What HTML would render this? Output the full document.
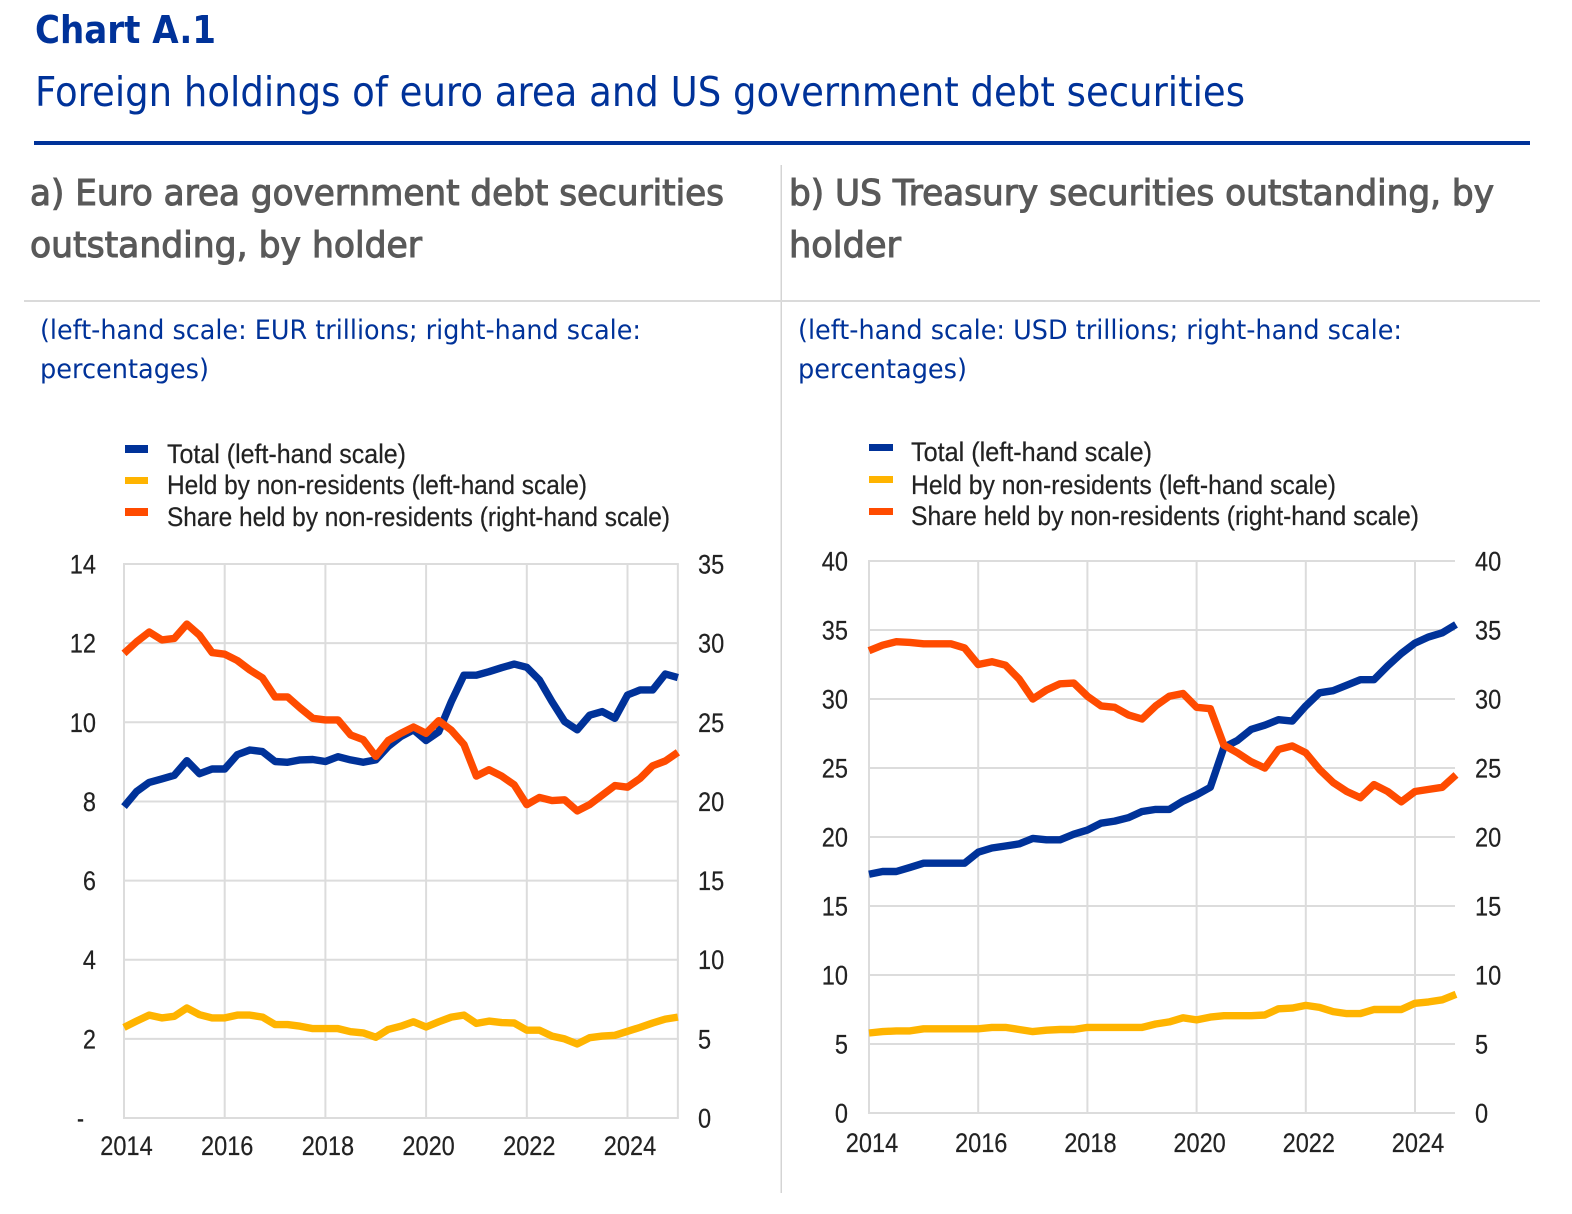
<!DOCTYPE html>
<html lang="en">
<head>
<meta charset="utf-8">
<title>Chart A.1</title>
<style>
html,body{margin:0;padding:0;background:#fff;}
#root{position:relative;width:1572px;height:1214px;overflow:hidden;background:#fff;}
svg{position:absolute;left:0;top:0;display:block;}
.head{font-family:"DejaVu Sans","Liberation Sans",sans-serif;}
.semi{stroke:#595959;stroke-width:1.1px;}
.tk{font-family:"Liberation Sans",Arial,sans-serif;fill:#222;font-size:27px;stroke:#222;stroke-width:.2px;}
.lg{font-family:"Liberation Sans",Arial,sans-serif;fill:#222;font-size:26.5px;stroke:#222;stroke-width:.2px;}
</style>
</head>
<body>
<div id="root">
<svg id="fig" width="1572" height="1214" viewBox="0 0 1572 1214" xmlns="http://www.w3.org/2000/svg">
  <text class="head" x="35" y="43" font-size="38" font-weight="700" fill="#003299" textLength="181" lengthAdjust="spacingAndGlyphs">Chart A.1</text>
  <text class="head" x="35" y="106" font-size="41" fill="#003299" textLength="1210" lengthAdjust="spacingAndGlyphs">Foreign holdings of euro area and US government debt securities</text>
  <rect x="34" y="141" width="1496" height="4" fill="#003299"/>
  <rect x="780.5" y="165" width="1.5" height="1028" fill="#d4d4d4"/>
  <rect x="24" y="300" width="1516" height="2" fill="#dadada"/>

  <text class="head semi" x="30" y="205" font-size="36" fill="#595959" textLength="694" lengthAdjust="spacingAndGlyphs">a) Euro area government debt securities</text>
  <text class="head semi" x="30" y="257" font-size="36" fill="#595959" textLength="392" lengthAdjust="spacingAndGlyphs">outstanding, by holder</text>
  <text class="head semi" x="789" y="205" font-size="36" fill="#595959" textLength="705" lengthAdjust="spacingAndGlyphs">b) US Treasury securities outstanding, by</text>
  <text class="head semi" x="789" y="257" font-size="36" fill="#595959" textLength="112" lengthAdjust="spacingAndGlyphs">holder</text>

  <text class="head" x="40" y="339" font-size="27" fill="#003299" textLength="601" lengthAdjust="spacingAndGlyphs">(left-hand scale: EUR trillions; right-hand scale:</text>
  <text class="head" x="40" y="378" font-size="27" fill="#003299" textLength="169" lengthAdjust="spacingAndGlyphs">percentages)</text>
  <text class="head" x="798" y="339" font-size="27" fill="#003299" textLength="604" lengthAdjust="spacingAndGlyphs">(left-hand scale: USD trillions; right-hand scale:</text>
  <text class="head" x="798" y="378" font-size="27" fill="#003299" textLength="169" lengthAdjust="spacingAndGlyphs">percentages)</text>

  <g>
    <rect x="125" y="445" width="23" height="8" fill="#003299"/>
    <text class="lg" x="167" y="463" textLength="239" lengthAdjust="spacingAndGlyphs">Total (left-hand scale)</text>
    <rect x="125" y="477" width="23" height="7" fill="#ffb400"/>
    <text class="lg" x="167" y="494" textLength="420" lengthAdjust="spacingAndGlyphs">Held by non-residents (left-hand scale)</text>
    <rect x="125" y="508" width="23" height="8" fill="#ff4b00"/>
    <text class="lg" x="167" y="526" textLength="503" lengthAdjust="spacingAndGlyphs">Share held by non-residents (right-hand scale)</text>
  </g>
  <g>
    <rect x="869" y="444" width="24" height="7" fill="#003299"/>
    <text class="lg" x="911" y="461" textLength="241" lengthAdjust="spacingAndGlyphs">Total (left-hand scale)</text>
    <rect x="869" y="476" width="24" height="7" fill="#ffb400"/>
    <text class="lg" x="911" y="494" textLength="425" lengthAdjust="spacingAndGlyphs">Held by non-residents (left-hand scale)</text>
    <rect x="869" y="508" width="24" height="7" fill="#ff4b00"/>
    <text class="lg" x="911" y="525" textLength="508" lengthAdjust="spacingAndGlyphs">Share held by non-residents (right-hand scale)</text>
  </g>
  <g id="chart-a"></g>
  <g id="chart-b"></g>
</svg>
</div>
<script>
// Panel a data (quarterly from 2014 Q1)
const aTotal = [7.87,8.25,8.48,8.57,8.66,9.03,8.70,8.82,8.82,9.18,9.30,9.26,9.01,8.99,9.05,9.06,9.01,9.13,9.05,8.99,9.05,9.39,9.64,9.81,9.54,9.76,10.52,11.19,11.19,11.28,11.38,11.47,11.39,11.07,10.52,10.02,9.81,10.18,10.27,10.10,10.69,10.82,10.82,11.22,11.13];
const aHeld = [2.29,2.45,2.60,2.53,2.57,2.78,2.61,2.53,2.53,2.60,2.60,2.55,2.36,2.36,2.32,2.26,2.26,2.26,2.18,2.15,2.04,2.24,2.32,2.43,2.30,2.43,2.55,2.60,2.39,2.45,2.41,2.40,2.22,2.22,2.07,2.00,1.87,2.03,2.07,2.09,2.19,2.29,2.40,2.50,2.55];
const aShare = [29.35,30.08,30.7,30.2,30.3,31.2,30.5,29.4,29.3,28.9,28.3,27.8,26.6,26.6,25.9,25.25,25.15,25.15,24.2,23.9,22.85,23.85,24.3,24.7,24.3,25.1,24.5,23.6,21.6,22.0,21.6,21.05,19.8,20.25,20.05,20.1,19.4,19.8,20.4,21.0,20.9,21.45,22.25,22.55,23.1];
const aLeftTicks = [0,2,4,6,8,10,12,14];
const aLeftLabels = ['-','2','4','6','8','10','12','14'];
const aRightTicks = [0,5,10,15,20,25,30,35];
const aRightLabels = ['0','5','10','15','20','25','30','35'];
const aYearTicks = [2014,2016,2018,2020,2022,2024];
const aYearLabels = ['2014','2016','2018','2020','2022','2024'];

// Panel b data (quarterly from 2014 Q1)
const bTotal = [17.3,17.5,17.5,17.8,18.1,18.1,18.1,18.1,18.9,19.2,19.35,19.5,19.9,19.8,19.8,20.2,20.5,21.0,21.15,21.4,21.85,22.0,22.0,22.6,23.05,23.6,26.5,27.0,27.8,28.1,28.5,28.4,29.5,30.45,30.6,31.0,31.4,31.4,32.4,33.3,34.05,34.5,34.8,35.4];
const bHeld = [5.8,5.9,5.95,5.95,6.1,6.1,6.1,6.1,6.1,6.2,6.2,6.05,5.9,6.0,6.05,6.05,6.2,6.2,6.2,6.2,6.2,6.45,6.6,6.9,6.75,6.95,7.05,7.05,7.05,7.1,7.55,7.6,7.8,7.65,7.35,7.2,7.2,7.5,7.5,7.5,7.95,8.05,8.2,8.6];
const bShare = [33.5,33.9,34.15,34.1,34.0,34.0,34.0,33.7,32.5,32.7,32.45,31.45,30.0,30.65,31.1,31.15,30.2,29.5,29.4,28.85,28.55,29.5,30.2,30.4,29.4,29.3,26.65,26.1,25.45,25.0,26.35,26.6,26.1,24.9,23.95,23.3,22.85,23.8,23.3,22.55,23.3,23.45,23.6,24.5];
const bLeftTicks = [0,5,10,15,20,25,30,35,40];
const bLeftLabels = ['0','5','10','15','20','25','30','35','40'];
const bRightTicks = [0,5,10,15,20,25,30,35,40];
const bRightLabels = ['0','5','10','15','20','25','30','35','40'];
const bYearTicks = [2014,2016,2018,2020,2022,2024];
const bYearLabels = ['2014','2016','2018','2020','2022','2024'];

const NS = 'http://www.w3.org/2000/svg';
const START_YEAR = 2014;
const GRID = '#dcdcdc';
const BLUE = '#003299';
const YELLOW = '#ffb400';
const ORANGE = '#ff4b00';

function svgEl(tag, parent) {
  const el = document.createElementNS(NS, tag);
  parent.appendChild(el);
  return el;
}
function gridLine(parent, x1, y1, x2, y2, name) {
  const l = svgEl('line', parent);
  l.setAttribute('x1', x1);
  l.setAttribute('y1', y1);
  l.setAttribute('x2', x2);
  l.setAttribute('y2', y2);
  l.setAttribute('stroke', GRID);
  l.setAttribute('stroke-width', 2);
  
  
}
function label(parent, x, y, str, anchor, name) {
  const t = svgEl('text', parent);
  t.setAttribute('class', 'tk');
  t.setAttribute('x', x);
  t.setAttribute('y', y);
  t.setAttribute('text-anchor', anchor);
  t.setAttribute('textLength', str === '-' ? 7 : str.length * 13.1);
  t.setAttribute('lengthAdjust', 'spacingAndGlyphs');
  t.textContent = str;
  
  
}
function seriesLine(parent, values, xFn, yFn, color, name) {
  const p = svgEl('polyline', parent);
  const pts = [];
  for (let i = 0; i < values.length; i++) {
    pts.push(xFn(START_YEAR + i / 4).toFixed(1) + ',' + yFn(values[i]).toFixed(1));
  }
  p.setAttribute('points', pts.join(' '));
  p.setAttribute('fill', 'none');
  p.setAttribute('stroke', color);
  p.setAttribute('stroke-width', 7.4);
  p.setAttribute('stroke-linejoin', 'round');
  p.setAttribute('stroke-linecap', 'butt');
  
  
}

// Panel a axes
const aX = function (t) { return 124 + (t - 2014) * 50.35; };
const aYL = function (v) { return 1118 - v * 39.57; };
const aYR = function (v) { return 1118 - v * 15.83; };
// Panel b axes
const bX = function (t) { return 869 + (t - 2014) * 54.6; };
const bYL = function (v) { return 1113 - v * 13.8; };
const bYR = function (v) { return 1113 - v * 13.8; };

function drawA() {
  const g = document.getElementById('chart-a');
  const xEnd = aX(2025);
  aLeftTicks.forEach(function (v, i) {
    gridLine(g, aX(2014) - 1, aYL(v), xEnd + 1, aYL(v), 'gridline-y-' + v);
    const tx = aLeftLabels[i] === '-' ? 84 : 96;
    label(g, tx, aYL(v) + 9.5, aLeftLabels[i], 'end', 'left-tick-' + v);
  });
  aYearTicks.forEach(function (y, i) {
    gridLine(g, aX(y), aYL(14), aX(y), aYL(0), 'gridline-x-' + y);
    label(g, aX(y) + 2.5, 1155, aYearLabels[i], 'middle', 'x-tick-' + y);
  });
  gridLine(g, xEnd, aYL(14), xEnd, aYL(0), 'plot-right-edge');
  aRightTicks.forEach(function (v, i) {
    label(g, 698, aYR(v) + 9.5, aRightLabels[i], 'start', 'right-tick-' + v);
  });
  seriesLine(g, aHeld, aX, aYL, YELLOW, 'series-held-by-non-residents');
  seriesLine(g, aTotal, aX, aYL, BLUE, 'series-total');
  seriesLine(g, aShare, aX, aYR, ORANGE, 'series-share-held');
}
function drawB() {
  const g = document.getElementById('chart-b');
  const xEnd = 1455;
  bLeftTicks.forEach(function (v, i) {
    gridLine(g, bX(2014) - 1, bYL(v), xEnd, bYL(v), 'gridline-y-' + v);
    label(g, 848, bYL(v) + 9.5, bLeftLabels[i], 'end', 'left-tick-' + v);
  });
  bYearTicks.forEach(function (y, i) {
    gridLine(g, bX(y), bYL(40), bX(y), bYL(0), 'gridline-x-' + y);
    label(g, bX(y) + 3, 1152, bYearLabels[i], 'middle', 'x-tick-' + y);
  });
  bRightTicks.forEach(function (v, i) {
    label(g, 1475, bYR(v) + 9.5, bRightLabels[i], 'start', 'right-tick-' + v);
  });
  seriesLine(g, bHeld, bX, bYL, YELLOW, 'series-held-by-non-residents');
  seriesLine(g, bTotal, bX, bYL, BLUE, 'series-total');
  seriesLine(g, bShare, bX, bYR, ORANGE, 'series-share-held');
}
drawA();
drawB();
</script>
</body>
</html>
